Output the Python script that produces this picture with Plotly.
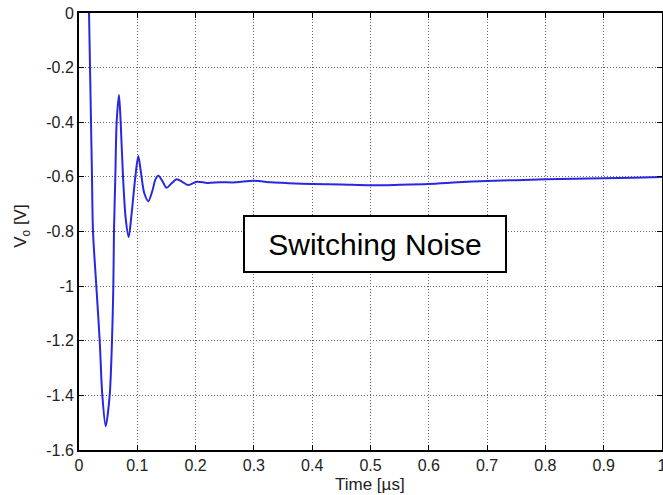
import plotly.graph_objects as go

# Time [us] and output voltage [V]
time_us = [0.015, 0.0172, 0.0189, 0.0206, 0.0223, 0.024, 0.0297, 0.0355, 0.040, 0.0458,
           0.0526, 0.0566, 0.0589, 0.060, 0.0623, 0.0646, 0.0686, 0.0715, 0.0755, 0.080,
           0.0852, 0.090, 0.0966, 0.1017, 0.106, 0.112, 0.119, 0.126, 0.131, 0.136,
           0.143, 0.150, 0.158, 0.1676, 0.177, 0.1875, 0.202, 0.22, 0.242, 0.27,
           0.298, 0.33, 0.36, 0.40, 0.45, 0.50, 0.55, 0.60, 0.65, 0.70,
           0.75, 0.80, 0.85, 0.90, 0.95, 1.00]
vo = [0.3, 0.0, -0.2, -0.4, -0.6, -0.8, -1.0, -1.2, -1.4, -1.513,
      -1.4, -1.2, -1.0, -0.8, -0.6, -0.4, -0.30, -0.4, -0.6, -0.75,
      -0.82, -0.74, -0.6, -0.524, -0.58, -0.66, -0.689, -0.65, -0.61, -0.596,
      -0.615, -0.64, -0.625, -0.609, -0.618, -0.63, -0.618, -0.622, -0.62, -0.62,
      -0.614, -0.62, -0.623, -0.626, -0.628, -0.631, -0.629, -0.626, -0.62, -0.615,
      -0.612, -0.609, -0.607, -0.605, -0.603, -0.60]

x_ticks = [0, 0.1, 0.2, 0.3, 0.4, 0.5, 0.6, 0.7, 0.8, 0.9, 1]
x_tick_labels = ["0", "0.1", "0.2", "0.3", "0.4", "0.5", "0.6", "0.7", "0.8", "0.9", "1"]
y_ticks = [0, -0.2, -0.4, -0.6, -0.8, -1, -1.2, -1.4, -1.6]
y_tick_labels = ["0", "-0.2", "-0.4", "-0.6", "-0.8", "-1", "-1.2", "-1.4", "-1.6"]

FONT = "Liberation Sans, Arial, Helvetica"

fig = go.Figure()
fig.add_trace(go.Scatter(x=time_us, y=vo, mode="lines",
                         line=dict(color="rgb(40,40,225)", width=2, shape="spline", smoothing=0.8),
                         showlegend=False))

axis_common = dict(showline=True, linecolor="black", linewidth=2, mirror="ticks",
                   ticks="inside", ticklen=5, tickcolor="black", automargin=False,
                   ticklabeloverflow="allow",
                   showgrid=True, gridcolor="#666666", griddash="1px,2px", gridwidth=1,
                   zeroline=False,
                   tickfont=dict(family=FONT, size=16, color="#222"))

fig.update_xaxes(range=[0, 1], tickvals=x_ticks, ticktext=x_tick_labels, **axis_common)
fig.update_yaxes(range=[-1.6, 0], tickvals=y_ticks, ticktext=y_tick_labels, **axis_common)

# Axis titles
fig.add_annotation(x=0.499, y=-0.078, xref="paper", yref="paper", text="Time [µs]",
                   showarrow=False, xanchor="center", yanchor="middle",
                   font=dict(family=FONT, size=17, color="#222"))
fig.add_annotation(x=-0.0978, y=0.513, xref="paper", yref="paper", text="V<sub>o</sub> [V]",
                   showarrow=False, xanchor="center", yanchor="middle", textangle=-90,
                   font=dict(family=FONT, size=17, color="#222"))

fig.add_annotation(x=0.508, y=-0.846, xref="x", yref="y", text="Switching Noise",
                   showarrow=False, font=dict(family=FONT, size=30, color="black"),
                   bgcolor="white", bordercolor="black", borderwidth=2, borderpad=0,
                   width=260, height=54)

fig.update_layout(width=663, height=495, margin=dict(l=79, r=1, t=13, b=45),
                  plot_bgcolor="white", paper_bgcolor="white")

# remove the browser's default 8px body margin so the figure fills the window
fig.write_html("out.html", config={"displayModeBar": False},
               post_script="document.body.style.margin='0';")
